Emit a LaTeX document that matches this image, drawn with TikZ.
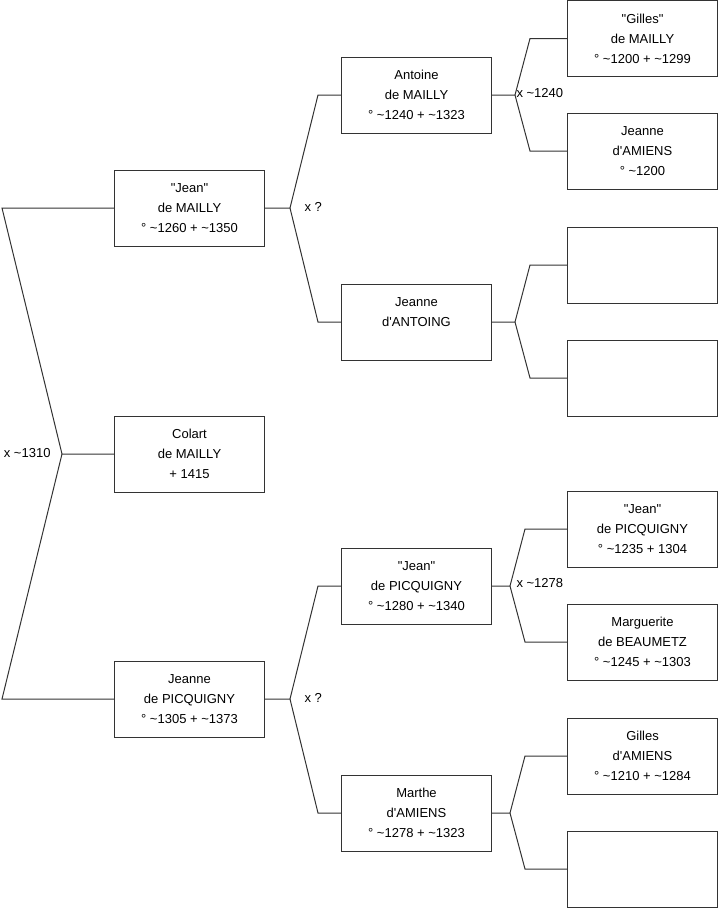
\documentclass[tikz,border=0pt]{standalone}
\usepackage{fontspec}
\setmainfont{Liberation Sans}
\usetikzlibrary{positioning}

\begin{document}
\begin{tikzpicture}[x=0.75pt, y=-0.75pt, line width=0.75pt,
    person/.style={draw=black!80, minimum width=112.5pt, minimum height=57pt, align=center, font=\fontsize{9.75}{15}\selectfont},
    union/.style={font=\fontsize{9.75}{15}\selectfont, inner sep=0pt},
    link/.style={draw=black!80}]
  \useasboundingbox (0,0) rectangle (719,908);
  % generation 0 and 1
  \node[person] (jeanM) at (189.5,208) {\textquotedbl Jean\textquotedbl\\de MAILLY\\° \textasciitilde1260 + \textasciitilde1350};
  \node[person] (colart) at (189.5,454) {Colart\\de MAILLY\\+ 1415};
  \node[person] (jeanneP) at (189.5,699) {Jeanne\\de PICQUIGNY\\° \textasciitilde1305 + \textasciitilde1373};
  % generation 2
  \node[person] (antoine) at (416.5,95) {Antoine\\de MAILLY\\° \textasciitilde1240 + \textasciitilde1323};
  \node[person] (antoing) at (416.5,322) {Jeanne\\d\textquotesingle ANTOING\\\mbox{}};
  \node[person] (jeanP) at (416.5,586) {\textquotedbl Jean\textquotedbl\\de PICQUIGNY\\° \textasciitilde1280 + \textasciitilde1340};
  \node[person] (marthe) at (416.5,813) {Marthe\\d\textquotesingle AMIENS\\° \textasciitilde1278 + \textasciitilde1323};
  % generation 3
  \node[person] (gilles) at (642.5,38.5) {\textquotedbl Gilles\textquotedbl\\de MAILLY\\° \textasciitilde1200 + \textasciitilde1299};
  \node[person] (jeanneA) at (642.5,151) {Jeanne\\d\textquotesingle AMIENS\\° \textasciitilde1200};
  \node[person] (jeanPP) at (642.5,529) {\textquotedbl Jean\textquotedbl\\de PICQUIGNY\\° \textasciitilde1235 + 1304};
  \node[person] (marguerite) at (642.5,642) {Marguerite\\de BEAUMETZ\\° \textasciitilde1245 + \textasciitilde1303};
  \node[person] (gillesA) at (642.5,756) {Gilles\\d\textquotesingle AMIENS\\° \textasciitilde1210 + \textasciitilde1284};
  \foreach \n/\y in {blankA/265, blankB/378, blankC/869}
    \node[person] (\n) at (642.5,\y) {};
  % unions
  \coordinate (u0) at (62,454);   \coordinate (c0) at (2,454);
  \coordinate (u1) at (290,208);  \coordinate (c1) at (318,208);
  \coordinate (u2) at (290,699);
  \coordinate (u3) at (515,95);   \coordinate (c3) at (530,95);
  \coordinate (u4) at (515,322);
  \coordinate (u5) at (510,586);  \coordinate (c5) at (525,586);
  \coordinate (u6) at (510,813);
  \draw[link] (colart.west) -- (u0) -- (c0 |- jeanM.west) -- (jeanM.west);
  \draw[link] (u0) -- (c0 |- jeanneP.west) -- (jeanneP.west);
  \draw[link] (jeanM.east) -- (u1) -- (c1 |- antoine.west) -- (antoine.west);
  \draw[link] (u1) -- (c1 |- antoing.west) -- (antoing.west);
  \draw[link] (jeanneP.east) -- (u2) -- (c1 |- jeanP.west) -- (jeanP.west);
  \draw[link] (u2) -- (c1 |- marthe.west) -- (marthe.west);
  \draw[link] (antoine.east) -- (u3) -- (c3 |- gilles.west) -- (gilles.west);
  \draw[link] (u3) -- (c3 |- jeanneA.west) -- (jeanneA.west);
  \draw[link] (antoing.east) -- (u4) -- (c3 |- blankA.west) -- (blankA.west);
  \draw[link] (u4) -- (c3 |- blankB.west) -- (blankB.west);
  \draw[link] (jeanP.east) -- (u5) -- (c5 |- jeanPP.west) -- (jeanPP.west);
  \draw[link] (u5) -- (c5 |- marguerite.west) -- (marguerite.west);
  \draw[link] (marthe.east) -- (u6) -- (c5 |- gillesA.west) -- (gillesA.west);
  \draw[link] (u6) -- (c5 |- blankC.west) -- (blankC.west);
  % marriage labels
  \node[union, anchor=east] (m0) at (51,453) {x \textasciitilde1310};
  \node[union, anchor=west] (m1) at (304,207) {x ?};
  \node[union, anchor=west] (m2) at (304,698) {x ?};
  \node[union, anchor=west] (m3) at (516,93) {x \textasciitilde1240};
  \node[union, anchor=west] (m5) at (516,583) {x \textasciitilde1278};
\end{tikzpicture}
\end{document}
